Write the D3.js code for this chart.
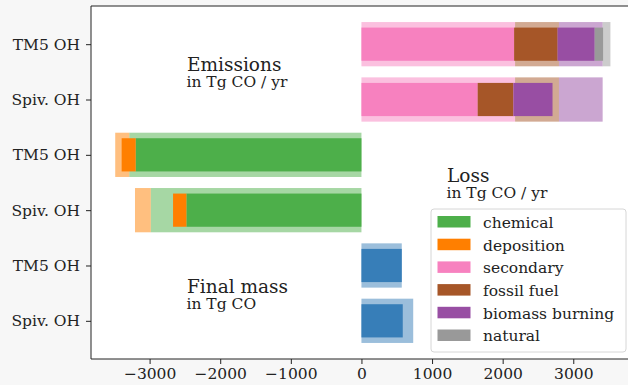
<!DOCTYPE html>
<html>
<head>
<meta charset="utf-8">
<script src="https://cdn.jsdelivr.net/npm/d3@7"></script>
<style>
  body { margin: 0; background: #f7f7f7; }
  svg { display: block; font-family: "DejaVu Serif", serif; }
  .axis text { font-family: "DejaVu Serif", serif; font-size: 15.5px; fill: #222; }
  .axis path, .axis line { stroke: #222; }
</style>
</head>
<body>
<div id="my_dataviz"></div>
<script>
// rows, top to bottom
var rowLabels = ["TM5 OH", "Spiv. OH", "TM5 OH", "Spiv. OH", "TM5 OH", "Spiv. OH"]
var xTicks = [-3000, -2000, -1000, 0, 1000, 2000, 3000]

// emissions (Tg CO / yr): secondary, fossil fuel, biomass burning, natural
var emisKeys = ["secondary", "fossil fuel", "biomass burning", "natural"]
var emisPriorTM5 = [2176, 621, 619, 110]
var emisPriorSpiv = [2176, 621, 619, 0]
var emisPostTM5 = [2162, 615, 526, 119]
var emisPostSpiv = [1646, 506, 554, 0]

// loss (Tg CO / yr): chemical, deposition
var lossKeys = ["chemical", "deposition"]
var lossPriorTM5 = [-3288, -199]
var lossPriorSpiv = [-2984, -223]
var lossPostTM5 = [-3197, -199]
var lossPostSpiv = [-2479, -189]

// final mass (Tg CO)
var massPrior = [571, 733]
var massPost = [571, 585]

var legendKeys = ["chemical", "deposition", "secondary", "fossil fuel", "biomass burning", "natural"]
var colorkeys = ["#4daf4a", "#ff7f00", "#f781bf", "#a65628", "#984ea3", "#999999"]

var color = d3.scaleOrdinal().domain(legendKeys).range(colorkeys)

var W = 628, H = 385
var margin = { top: 6, right: -6, bottom: 26, left: 91 },
  width = W - margin.left - margin.right,
  height = H - margin.top - margin.bottom;

var svg = d3.select("#my_dataviz")
  .append("svg")
  .attr("width", W)
  .attr("height", H)

// white axes area
svg.append("rect")
  .attr("x", margin.left).attr("y", margin.top)
  .attr("width", width).attr("height", height)
  .attr("fill", "white")

var g = svg.append("g")
  .attr("transform", "translate(" + margin.left + "," + margin.top + ")");

var x = d3.scaleLinear()
  .domain([-3830, 3860])
  .range([0, width]);
var y = d3.scaleLinear()
  .domain([-0.69, 5.69])
  .range([0, height]);

// build stacked segments for one row
function stack(vals, keys, row, band, alpha) {
  var out = [], acc = 0
  vals.forEach(function(v, i) {
    if (v == 0) return
    out.push({ x0: acc, x1: acc + v, key: keys[i], row: row, band: band, alpha: alpha })
    acc += v
  })
  return out
}

var segs = []
  .concat(stack(emisPriorTM5, emisKeys, 0, 0.8, 0.5))
  .concat(stack(emisPriorSpiv, emisKeys, 1, 0.8, 0.5))
  .concat(stack(lossPriorTM5, lossKeys, 2, 0.8, 0.5))
  .concat(stack(lossPriorSpiv, lossKeys, 3, 0.8, 0.5))
  .concat(massPrior.map(function(v, i) { return { x0: 0, x1: v, key: "mass", row: 4 + i, band: 0.8, alpha: 0.5 } }))
  .concat(stack(emisPostTM5, emisKeys, 0, 0.6, 1))
  .concat(stack(emisPostSpiv, emisKeys, 1, 0.6, 1))
  .concat(stack(lossPostTM5, lossKeys, 2, 0.6, 1))
  .concat(stack(lossPostSpiv, lossKeys, 3, 0.6, 1))
  .concat(massPost.map(function(v, i) { return { x0: 0, x1: v, key: "mass", row: 4 + i, band: 0.6, alpha: 1 } }))

g.append("g")
  .selectAll("rect")
  .data(segs)
  .enter()
  .append("rect")
  .attr("x", function(d) { return x(Math.min(d.x0, d.x1)) })
  .attr("width", function(d) { return Math.abs(x(d.x1) - x(d.x0)) })
  .attr("y", function(d) { return y(d.row - d.band / 2) })
  .attr("height", function(d) { return y(d.band) - y(0) })
  .attr("fill", function(d) { return d.key == "mass" ? "#377eb8" : color(d.key) })
  .attr("fill-opacity", function(d) { return d.alpha })

// axes
g.append("g")
  .attr("class", "axis")
  .call(d3.axisLeft(y).tickValues(d3.range(6)).tickSize(5).tickPadding(6)
    .tickFormat(function(d) { return rowLabels[d] }))
  .call(function(a) { a.select(".domain").remove() })

g.append("g")
  .attr("class", "axis")
  .attr("transform", "translate(0," + height + ")")
  .call(d3.axisBottom(x).tickValues(xTicks).tickSize(5).tickPadding(4)
    .tickFormat(function(d) { return d < 0 ? "\u2212" + Math.abs(d) : d }))
  .call(function(a) { a.select(".domain").remove() })

// spines
g.append("path")
  .attr("d", "M" + width + ",0H0V" + height + "H" + width)
  .attr("fill", "none")
  .attr("stroke", "#222")
  .attr("stroke-width", 1)

// annotations
var notes = [
  { x: 187, y: 71, big: "Emissions", small: "in Tg CO / yr" },
  { x: 447, y: 182, big: "Loss", small: "in Tg CO / yr" },
  { x: 187, y: 293, big: "Final mass", small: "in Tg CO" }
]
notes.forEach(function(n) {
  svg.append("text").attr("x", n.x).attr("y", n.y)
    .style("font-size", "18.5px").attr("fill", "#222").text(n.big)
  svg.append("text").attr("x", n.x - 0.5).attr("y", n.y + 16)
    .style("font-size", "15.5px").attr("fill", "#222").text(n.small)
})

// legend
var lg = svg.append("g").attr("transform", "translate(431,209)")
lg.append("rect")
  .attr("width", 195).attr("height", 143)
  .attr("rx", 3)
  .attr("fill", "white").attr("fill-opacity", 0.85)
  .attr("stroke", "#d6d6d6")
lg.selectAll("legendPatch")
  .data(legendKeys)
  .enter()
  .append("rect")
  .attr("x", 6.5).attr("y", function(d, i) { return 7 + i * 22.7 })
  .attr("width", 33).attr("height", 11.5)
  .attr("fill", function(d) { return color(d) })
lg.selectAll("legendLabels")
  .data(legendKeys)
  .enter()
  .append("text")
  .attr("x", 52).attr("y", function(d, i) { return 13.5 + i * 22.7 })
  .attr("dy", "0.35em")
  .style("font-size", "15.5px").attr("fill", "#222")
  .text(function(d) { return d })
</script>
</body>
</html>
